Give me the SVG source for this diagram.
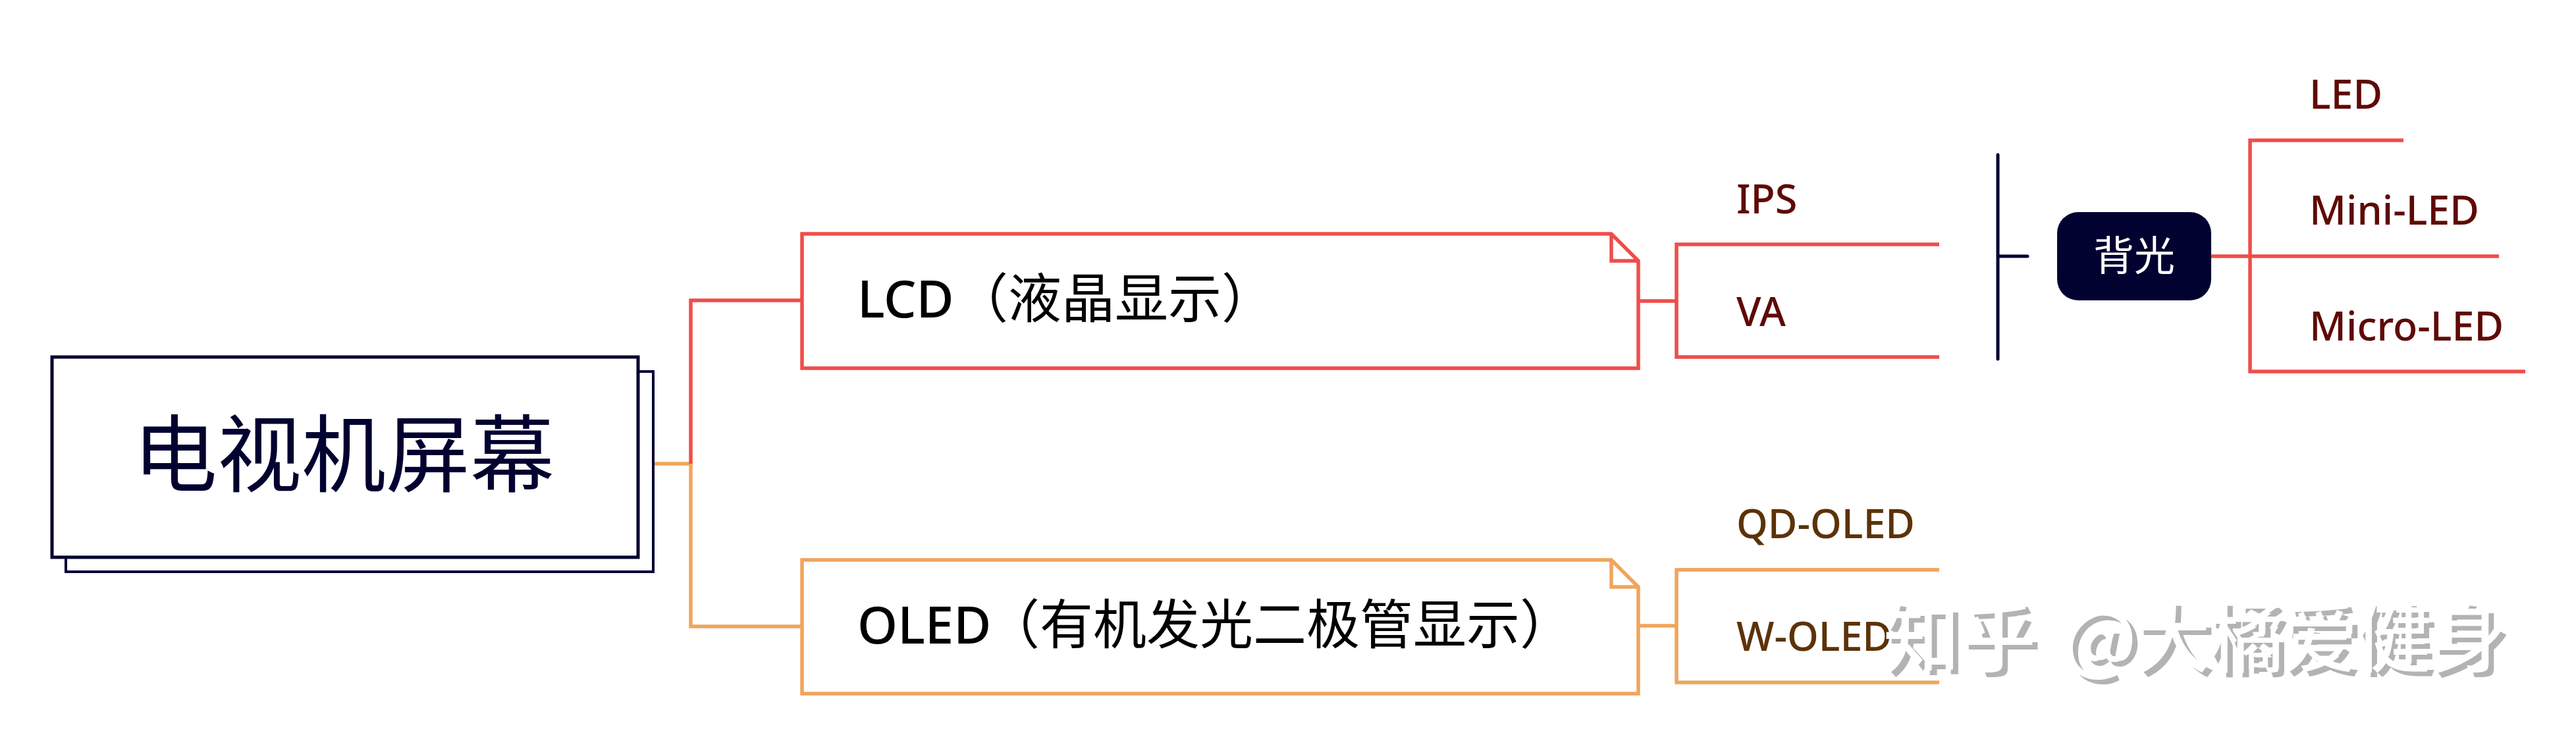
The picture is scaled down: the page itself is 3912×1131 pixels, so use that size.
<svg xmlns="http://www.w3.org/2000/svg" width="3912" height="1131" viewBox="0 0 3912 1131">
<style>
text{font-family:"Noto Sans","Noto Sans CJK SC",sans-serif;font-weight:500}
.r{fill:none;stroke:#ef4d4a;stroke-width:5.5}
.o{fill:none;stroke:#f0a55c;stroke-width:5.5}
.n{fill:#fff;stroke:#020230}
.t{font-size:78px;fill:#000}
.c{font-size:81px;font-weight:400;font-family:"Noto Sans CJK SC",sans-serif}
.sr{font-size:61px;fill:#5e0a05}
.so{font-size:61px;fill:#5c3208}
.wm{font-size:116px;font-family:"Noto Sans CJK SC",sans-serif;font-weight:500}
.wa{letter-spacing:-4px}
</style>
<rect width="3912" height="1131" fill="#fff"/>
<g id="connectors">
<path class="o" d="M992 704H1049V951H1218"/>
<path class="r" d="M1049 704V456H1218"/>
<path class="r" d="M2488 457H2546M2945 371H2546V542H2945"/>
<path class="o" d="M2488 950H2546M2945 865H2546V1036H2945"/>
<path d="M3034 235V545M3034 389H3079" fill="none" stroke="#020230" stroke-width="5" stroke-linecap="round"/>
<path class="r" d="M3358 389H3795M3650 213H3417V564H3835"/>
</g>
<g id="root">
<rect class="n" stroke-width="4" x="100" y="564" width="892" height="304"/>
<rect class="n" stroke-width="5" x="79" y="542" width="890" height="304"/>
<text x="522" y="737" font-size="128" text-anchor="middle" style="fill:#020230;font-weight:400;font-family:'Noto Sans CJK SC'">电视机屏幕</text>
</g>
<g id="lcd">
<path class="r" fill="#fff" d="M1218 355H2447L2488 396V559H1218ZM2447 355V396H2488"/>
<text class="t" x="1302" y="482">LCD<tspan class="c" x="1450">（液晶显示）</tspan></text>
</g>
<g id="oled">
<path class="o" fill="#fff" d="M1218 850H2447L2488 891V1053H1218ZM2447 850V891H2488"/>
<text class="t" x="1302" y="977">OLED<tspan class="c" x="1498">（有机发光二极管显示）</tspan></text>
</g>
<g id="ips"><text class="sr" x="2637" y="324">IPS</text></g>
<g id="va"><text class="sr" x="2637" y="495">VA</text></g>
<g id="qd"><text class="so" x="2637" y="817">QD-OLED</text></g>
<g id="w"><text class="so" x="2637" y="988">W-OLED</text></g>
<g id="backlight">
<rect x="3124" y="322" width="234" height="134" rx="32" fill="#020230"/>
<text x="3241" y="411" font-size="62" text-anchor="middle" style="fill:#fff;font-weight:400;font-family:'Noto Sans CJK SC'">背光</text>
</g>
<g id="led"><text class="sr" x="3507" y="165">LED</text></g>
<g id="mini"><text class="sr" x="3507" y="341">Mini-LED</text></g>
<g id="micro"><text class="sr" x="3507" y="517">Micro-LED</text></g>
<g id="watermark">
<text class="wm" x="2868" y="1018" fill="#b3b3b3">知乎 <tspan class="wa" dx="14">@大橘爱健身</tspan></text>
<text class="wm" x="2860" y="1011" fill="#fff">知乎 <tspan class="wa" dx="14">@大橘爱健身</tspan></text>
</g>
</svg>
